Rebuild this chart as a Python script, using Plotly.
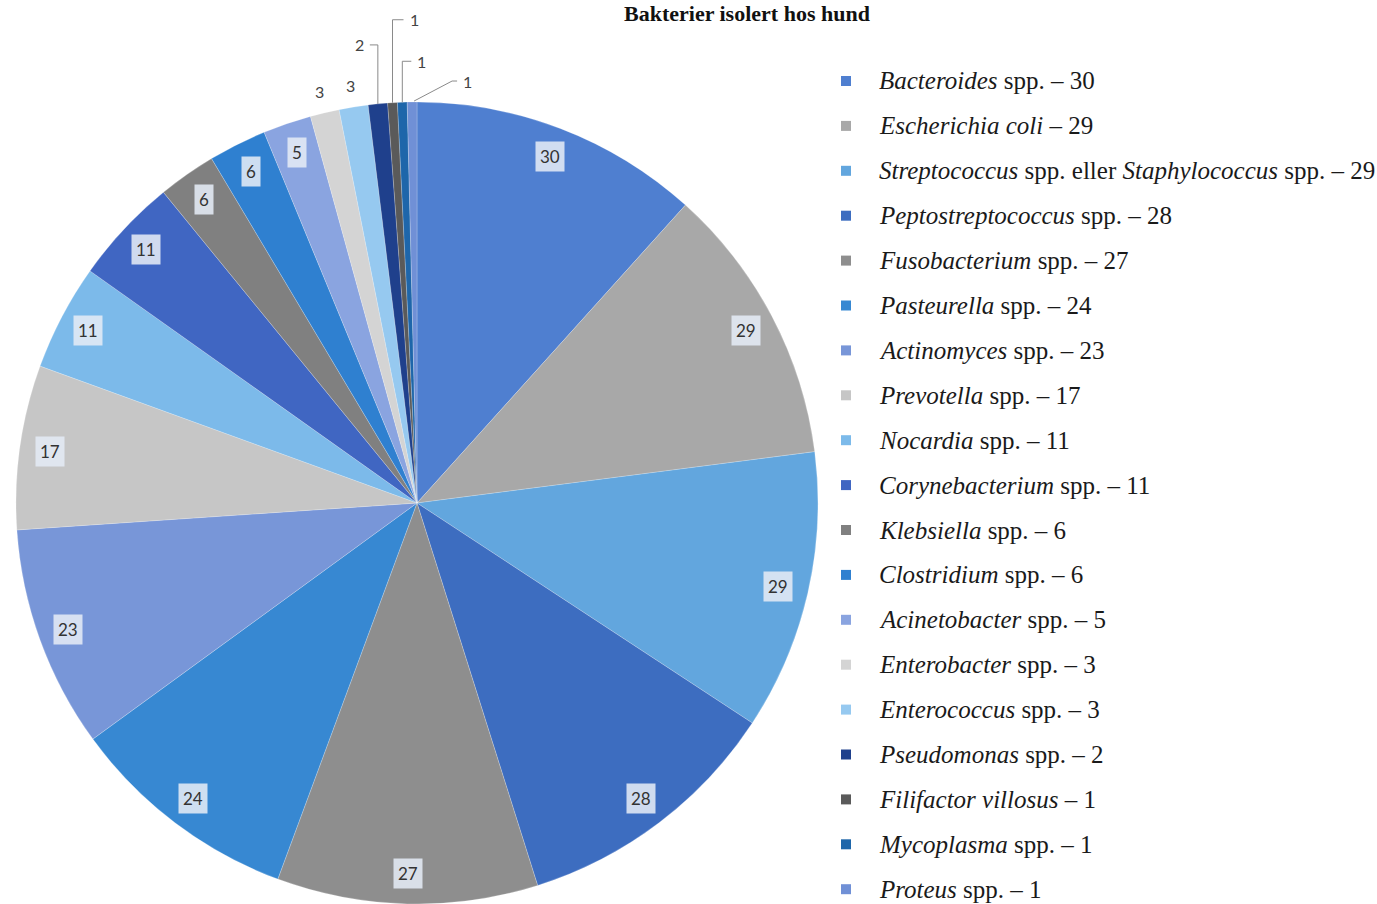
import math
import plotly.graph_objects as go

# ---------------- data ----------------
genus = ["Bacteroides", "Escherichia coli", "Streptococcus", "Peptostreptococcus",
         "Fusobacterium", "Pasteurella", "Actinomyces", "Prevotella", "Nocardia",
         "Corynebacterium", "Klebsiella", "Clostridium", "Acinetobacter",
         "Enterobacter", "Enterococcus", "Pseudomonas", "Filifactor villosus",
         "Mycoplasma", "Proteus"]
suffix = [" spp.", "", " spp. eller <i>Staphylococcus</i> spp.", " spp.", " spp.",
          " spp.", " spp.", " spp.", " spp.", " spp.", " spp.", " spp.", " spp.",
          " spp.", " spp.", " spp.", "", " spp.", " spp."]
counts = [30, 29, 29, 28, 27, 24, 23, 17, 11, 11, 6, 6, 5, 3, 3, 2, 1, 1, 1]
colors = ["#4f7fd0", "#a8a8a8", "#62a6de", "#3d6dc0", "#8e8e8e", "#3788d2",
          "#7896d8", "#c6c6c6", "#7cbaea", "#4066c2", "#808080", "#2f80d0",
          "#8aa4e0", "#d4d4d4", "#96c9f0", "#1f408c", "#5a5a5a", "#1e66aa",
          "#7090d6"]
title = "Bakterier isolert hos hund"

# ---------------- geometry ----------------
W, H = 1377, 904
CX, CY, R = 417, 503, 401          # pie centre / radius in pixels
LEG_X, LEG_Y0, LEG_DY = 846, 81, 44.9

def px(x):
    return x / W

def py(y):
    return 1 - y / H

labels = [f"<i>{g}</i>{s} \u2013 {c}" for g, s, c in zip(genus, suffix, counts)]

fig = go.Figure(go.Pie(
    labels=labels,
    values=counts,
    sort=False,
    direction="clockwise",
    rotation=0,
    marker=dict(colors=colors, line=dict(color="rgba(255,255,255,0.35)", width=0.6)),
    textinfo="none",
    hoverinfo="label+value",
    showlegend=False,
    domain=dict(x=[px(CX - R), px(CX + R)], y=[py(CY + R), py(CY - R)]),
))

annotations = []
shapes = []

# data labels, derived from the slice angles
total = sum(counts)
cum = 0
# leader-line styles for the smallest slices: (rise px, horizontal px)
leader = {15: (59, -8), 16: (83, 11), 17: (41, 9)}
for i, v in enumerate(counts):
    mid = (cum + v / 2) / total * 2 * math.pi
    cum += v
    sx, sy = math.sin(mid), -math.cos(mid)
    if v >= 5:
        d = 0.925 * R
        annotations.append(dict(
            x=px(CX + d * sx), y=py(CY + d * sy), xref="paper", yref="paper",
            xanchor="center", yanchor="middle",
            text=str(v), showarrow=False,
            font=dict(family="Lato, Open Sans, sans-serif", size=17, color="#333333"),
            bgcolor="rgba(228,235,245,0.88)", borderpad=4))
    elif v == 3:
        d = 1.055 * R
        annotations.append(dict(
            x=px(CX + d * sx), y=py(CY + d * sy), xref="paper", yref="paper",
            xanchor="center", yanchor="middle",
            text=str(v), showarrow=False,
            font=dict(family="Lato, Open Sans, sans-serif", size=16, color="#444444")))
    else:
        ex, ey = CX + R * sx, CY + R * sy
        if i in leader:
            rise, hor = leader[i]
            path = f"M{px(ex)},{py(ey)} L{px(ex)},{py(ey - rise)} L{px(ex + hor)},{py(ey - rise)}"
            lx, ly = ex + hor + (4 if hor > 0 else -4), ey - rise
        else:
            path = (f"M{px(ex + 2)},{py(ey - 1)} L{px(ex + 40)},{py(ey - 21)} "
                    f"L{px(ex + 45)},{py(ey - 21)}")
            lx, ly = ex + 49, ey - 21
        shapes.append(dict(type="path", path=path, xref="paper", yref="paper",
                           line=dict(color="#8a8a8a", width=1)))
        annotations.append(dict(
            x=px(lx), y=py(ly), xref="paper", yref="paper", text=str(v),
            showarrow=False, xanchor="left" if lx > ex else "right", yanchor="middle",
            font=dict(family="Lato, Open Sans, sans-serif", size=16, color="#444444")))

# legend (drawn as text + squares so spacing matches the original)
for i, (lab, col) in enumerate(zip(labels, colors)):
    y = LEG_Y0 + i * LEG_DY
    shapes.append(dict(type="rect", xref="paper", yref="paper",
                       x0=px(LEG_X - 5), x1=px(LEG_X + 5), y0=py(y + 5), y1=py(y - 5),
                       fillcolor=col, line=dict(width=0)))
    annotations.append(dict(
        x=px(LEG_X + 31), y=py(y), xref="paper", yref="paper", text=lab,
        showarrow=False, xanchor="left", yanchor="middle",
        font=dict(family="Liberation Serif, Times New Roman, serif", size=25,
                  color="#1a1a1a")))

# title at the very top edge
annotations.append(dict(
    x=px(747), y=1.0, xref="paper", yref="paper", text=f"<b>{title}</b>",
    showarrow=False, xanchor="center", yanchor="top", borderpad=0,
    font=dict(family="Liberation Serif, Times New Roman, serif", size=22, color="#111111")))

fig.update_layout(
    width=W, height=H,
    margin=dict(l=0, r=0, t=0, b=0),
    paper_bgcolor="white",
    plot_bgcolor="white",
    annotations=annotations,
    shapes=shapes,
)

fig.write_html("out.html")
